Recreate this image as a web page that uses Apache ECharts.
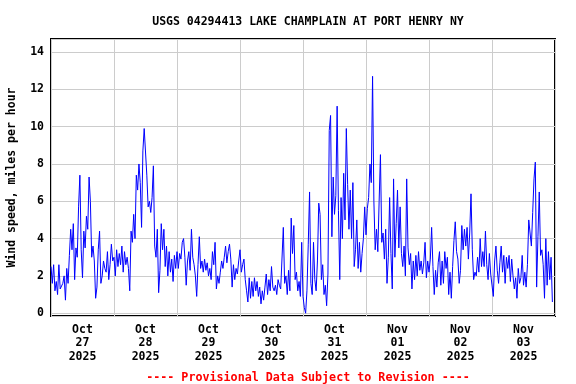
<!DOCTYPE html>
<html>
<head>
<meta charset="utf-8">
<script src="https://cdn.jsdelivr.net/npm/echarts@6/dist/echarts.min.js"></script>
<style>
  html, body { margin: 0; padding: 0; background: #fff; }
  #main { width: 576px; height: 384px; }
</style>
</head>
<body>
<div id="main"></div>
<script>
// wind speed, mph, one value every 30 min starting at midnight of each day
var oct27 = [2.5,1.6,2.6,1.2,1.7,1.0,2.6,1.3,1.2,1.6,2.0,0.7,2.4,1.6,3.1,4.5,3.4,4.8,1.8,3.5,3.0,5.7,7.4,3.4,1.9,4.4,3.5,5.2,4.5,7.3,6.0,3.0,3.6,2.8,0.8,1.4,3.4,4.4,1.6,2.0,2.8,2.4,2.2,3.3,1.8,2.6,3.7,2.8];
var oct28 = [3.0,2.0,3.4,2.5,3.2,2.6,3.6,2.2,3.3,2.6,3.0,2.4,1.2,4.4,3.8,5.3,4.0,7.4,6.6,8.0,7.0,4.6,8.7,9.9,9.8,7.4,5.7,6.0,5.4,6.2,7.9,3.6,3.0,4.5,1.1,2.3,4.8,3.4,4.5,2.5,3.6,2.0,3.3,2.2,2.9,1.7,3.1,2.4];
var oct29 = [3.3,2.4,3.2,2.9,3.8,4.0,3.0,1.5,2.8,3.3,2.3,4.5,3.0,2.6,2.0,0.9,2.6,4.1,2.4,2.8,2.2,2.9,2.3,2.7,2.0,2.4,1.8,3.3,2.6,3.8,1.3,2.0,1.6,2.2,2.8,2.4,3.0,3.6,2.7,3.3,3.7,2.9,1.4,2.6,1.8,2.4,2.1,2.8];
var oct30 = [3.4,2.2,2.6,2.9,1.8,1.2,0.6,1.9,0.8,1.7,0.9,1.9,1.2,1.7,0.9,1.4,0.5,1.2,0.7,1.4,2.1,1.0,1.8,1.2,2.5,1.4,1.2,1.5,1.0,1.8,1.5,1.3,1.4,4.6,1.6,2.0,1.0,2.3,1.2,5.1,3.2,4.7,1.8,2.2,1.2,1.7,0.9,3.8];
var oct31 = [0.9,0.3,0.0,1.2,3.7,6.5,1.6,1.0,3.8,1.8,1.2,2.8,5.9,5.3,1.8,2.6,1.0,1.5,0.4,2.1,9.8,10.6,4.1,7.3,5.3,6.3,11.1,5.5,1.8,6.2,4.0,7.5,5.0,9.9,6.9,4.5,6.6,4.0,7.0,2.5,3.4,5.0,2.4,3.8,2.2,3.2,4.0,5.7];
var nov01 = [4.2,5.6,6.2,8.0,7.0,12.7,6.0,3.4,4.5,3.3,6.0,8.5,3.8,4.3,2.9,4.5,1.6,3.0,6.2,3.2,1.3,7.2,3.0,4.8,6.6,3.5,5.7,3.2,2.5,3.6,2.0,7.2,3.5,2.6,3.2,1.3,2.8,1.8,3.1,2.0,3.3,2.3,2.8,2.1,2.7,3.8,1.9,2.8];
var nov02 = [2.2,2.9,4.6,2.5,1.0,2.3,1.4,2.7,3.3,1.5,2.8,1.6,3.3,2.4,3.0,1.0,2.2,0.8,2.5,3.9,4.9,3.3,2.9,1.6,2.3,4.7,3.4,4.5,3.6,4.6,2.9,4.3,6.4,3.4,1.8,2.2,2.0,3.0,2.2,4.0,2.5,3.3,2.5,4.4,2.6,1.8,3.2,2.1];
var nov03 = [2.1,0.9,2.8,3.6,2.3,1.6,2.7,3.6,2.2,3.1,1.6,3.0,2.4,3.1,1.7,2.9,2.0,1.3,1.9,0.8,2.4,1.6,1.9,3.1,1.5,2.2,1.4,2.6,5.0,5.1,3.6,5.4,7.2,8.1,1.4,4.1,6.5,3.1,3.4,2.6,0.8,4.0,1.5,3.3,1.8,3.0,0.6];

var days = [oct27, oct28, oct29, oct30, oct31, nov01, nov02, nov03];
var monthNames = ['Jan','Feb','Mar','Apr','May','Jun','Jul','Aug','Sep','Oct','Nov','Dec'];
var yTicks = [0, 2, 4, 6, 8, 10, 12, 14];

var DAY = 24 * 3600 * 1000;
var start = Date.UTC(2025, 9, 27);
var step = 30 * 60 * 1000;

var data = [];
days.forEach(function (vals, d) {
    vals.forEach(function (v, i) {
        data.push([start + d * DAY + i * step, v]);
    });
});

// labels sit at noon of every day
var noon = [];
for (var d = 0; d < days.length; d++) noon.push(start + d * DAY + DAY / 2);

function pad(n) { return (n < 10 ? '0' : '') + n; }

var font = 'DejaVu Sans Mono';
var myChart = echarts.init(document.getElementById('main'));
var option = {
    animation: false,
    backgroundColor: '#fff',
    title: [{
        text: 'USGS 04294413 LAKE CHAMPLAIN AT PORT HENRY NY',
        left: 303, top: 11, textAlign: 'center',
        textStyle: { fontFamily: font, fontWeight: 'bold', fontSize: 11.5, color: '#000' }
    }, {
        text: '---- Provisional Data Subject to Revision ----',
        left: 303, top: 367, textAlign: 'center',
        textStyle: { fontFamily: font, fontWeight: 'bold', fontSize: 11.7, color: '#ff0000' }
    }],
    grid: {
        left: 51, right: 21, top: 39, bottom: 68,
        outerBoundsMode: 'none',
        containLabel: false,
        show: true, borderColor: '#000', borderWidth: 2
    },
    xAxis: {
        type: 'value',
        min: start,
        max: start + days.length * DAY,
        interval: DAY,
        axisLine: { show: false },
        axisTick: { show: false },
        splitLine: { show: true, lineStyle: { color: '#cccccc', width: 1 } },
        axisLabel: {
            customValues: noon,
            margin: 7,
            lineHeight: 13.5,
            fontFamily: font, fontWeight: 'bold', fontSize: 11.5, color: '#000',
            formatter: function (v) {
                var t = new Date(v);
                return monthNames[t.getUTCMonth()] + '\n' + pad(t.getUTCDate()) + '\n' + t.getUTCFullYear();
            }
        }
    },
    yAxis: {
        type: 'value',
        min: -0.15,
        max: 14.7,
        splitNumber: 7,
        name: 'Wind speed, miles per hour',
        nameLocation: 'middle',
        nameGap: 33,
        nameTextStyle: { fontFamily: font, fontWeight: 'bold', fontSize: 11.5, color: '#000' },
        axisLine: { show: false },
        axisTick: { show: false },
        splitLine: { show: true, lineStyle: { color: '#cccccc', width: 1 } },
        axisLabel: {
            margin: 7,
            fontFamily: font, fontWeight: 'bold', fontSize: 11.5, color: '#000',
            formatter: function (v) { return yTicks.indexOf(v) >= 0 ? String(v) : ''; }
        }
    },
    series: [{
        type: 'line',
        data: data,
        showSymbol: false,
        symbol: 'none',
        sampling: null,
        lineStyle: { color: '#0000ff', width: 1 },
        z: 3
    }]
};
myChart.setOption(option);
</script>
</body>
</html>
